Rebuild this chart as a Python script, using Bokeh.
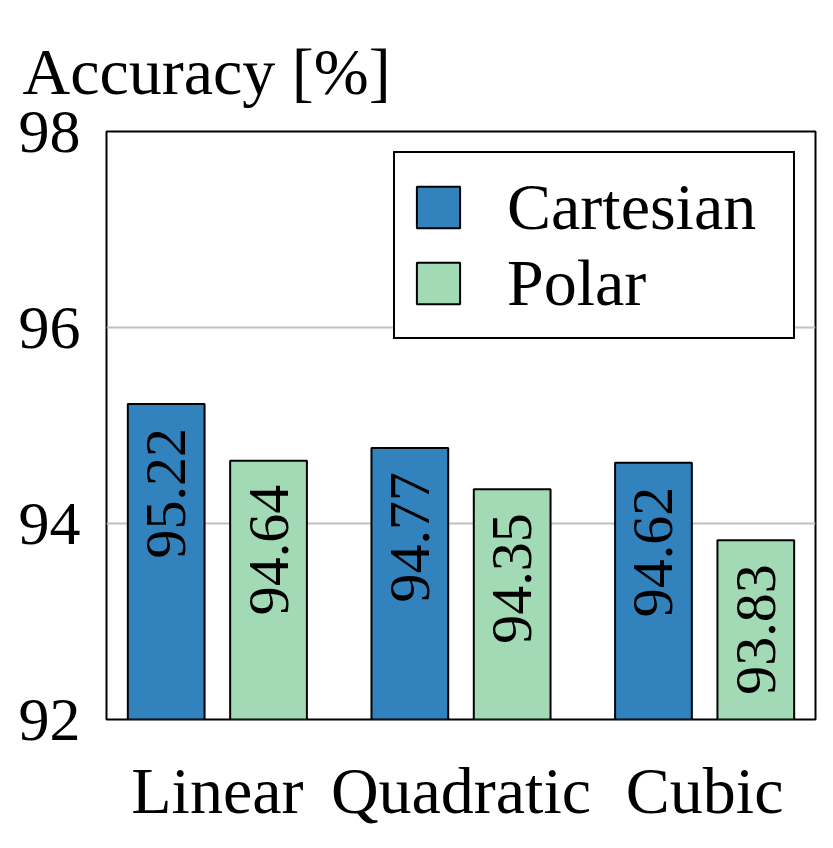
from math import pi
from bokeh.plotting import figure
from bokeh.models import (ColumnDataSource, FactorRange, Range1d, FixedTicker,
                          Legend, LegendItem)
from bokeh.transform import dodge
from bokeh.core.properties import value
from bokeh.embed import file_html
from bokeh.resources import INLINE

# ---- data ----
categories = ["Linear", "Quadratic", "Cubic"]
cartesian = [95.22, 94.77, 94.62]
polar = [94.64, 94.35, 93.83]
y_ticks = [92, 94, 96, 98]
series_names = ["Cartesian", "Polar"]
y_title = "Accuracy [%]"

FONT = "Liberation Serif"
BLUE = "#3182bd"
GREEN = "#a1dab4"

src = ColumnDataSource(dict(
    cat=categories,
    cart=cartesian,
    pol=polar,
    cart_lbl=["%.2f" % v for v in cartesian],
    pol_lbl=["%.2f" % v for v in polar],
))

p = figure(width=817, height=832, output_backend="svg", toolbar_location=None,
           x_range=FactorRange(*categories, range_padding=-0.03),
           y_range=Range1d(y_ticks[0], y_ticks[-1]),
           min_border_left=106, min_border_right=2, min_border_top=131,
           min_border_bottom=113)

p.title.text = y_title
p.title.text_font = FONT
p.title.text_font_size = "66px"
p.title.text_font_style = "normal"
p.title.text_color = "black"
p.title.align = "left"
p.title.offset = -84
p.title.standoff = 48

off = 0.21
bw = 0.315
r1 = p.vbar(x=dodge("cat", -off, range=p.x_range), top="cart", bottom=y_ticks[0],
            width=bw, source=src, fill_color=BLUE, line_color="black", line_width=2)
r2 = p.vbar(x=dodge("cat", off, range=p.x_range), top="pol", bottom=y_ticks[0],
            width=bw, source=src, fill_color=GREEN, line_color="black", line_width=2)

for col, lbl, dx in (("cart", "cart_lbl", -off), ("pol", "pol_lbl", off)):
    p.text(x=dodge("cat", dx, range=p.x_range), y=col, text=lbl, source=src,
           angle=pi / 2, text_align="right", text_baseline="middle",
           y_offset=24, text_font=value(FONT), text_font_size="58px",
           text_color="black")

# axes
p.yaxis.ticker = FixedTicker(ticks=y_ticks)
p.yaxis.major_label_text_font = FONT
p.yaxis.major_label_text_font_size = "62px"
p.yaxis.major_label_text_color = "black"
p.yaxis.major_tick_line_color = None
p.yaxis.minor_tick_line_color = None
p.yaxis.axis_line_color = None
p.yaxis.major_label_standoff = 20

p.xaxis.major_label_text_font = FONT
p.xaxis.major_label_text_font_size = "66px"
p.xaxis.major_label_text_color = "black"
p.xaxis.major_tick_line_color = None
p.xaxis.minor_tick_line_color = None
p.xaxis.axis_line_color = None
p.xaxis.major_label_standoff = 28

p.xgrid.grid_line_color = None
p.ygrid.ticker = FixedTicker(ticks=y_ticks)
p.ygrid.grid_line_color = "#c0c0c0"
p.ygrid.grid_line_width = 2

p.outline_line_color = "black"
p.outline_line_width = 2
p.outline_line_alpha = 1

legend = Legend(items=[LegendItem(label=series_names[0], renderers=[r1]),
                       LegendItem(label=series_names[1], renderers=[r2])],
                location="top_right")
legend.margin = 20
legend.padding = 16
legend.spacing = 0
legend.glyph_width = 54
legend.glyph_height = 52
legend.label_standoff = 42
legend.label_width = 270
legend.label_text_font = FONT
legend.label_text_font_size = "66px"
legend.label_text_color = "black"
legend.border_line_color = "black"
legend.border_line_width = 2
legend.border_line_alpha = 1
legend.background_fill_alpha = 1
p.add_layout(legend)

open("out.html", "w").write(file_html(p, INLINE))
